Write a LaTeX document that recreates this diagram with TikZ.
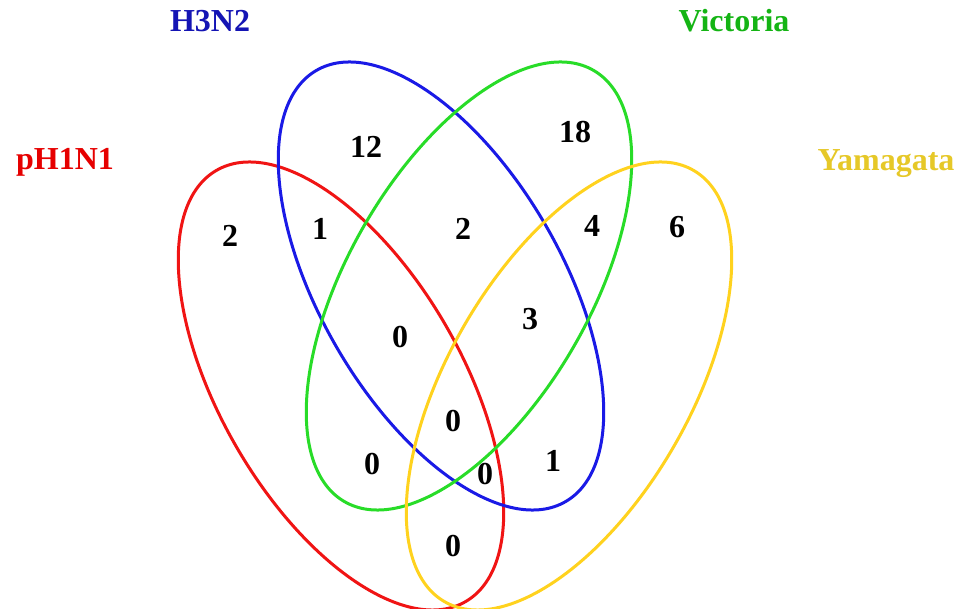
\documentclass[tikz,border=0pt]{standalone}
\usepackage{fontspec}
\setmainfont{Liberation Serif}
\definecolor{redline}{HTML}{F01414}
\definecolor{redtext}{HTML}{E60000}
\definecolor{blueline}{HTML}{1A1AE6}
\definecolor{bluetext}{HTML}{1414B4}
\definecolor{greenline}{HTML}{28DC28}
\definecolor{greentext}{HTML}{14B414}
\definecolor{yellowline}{HTML}{FFD21E}
\definecolor{yellowtext}{HTML}{E6C828}
\begin{document}
\begin{tikzpicture}[x=1pt,y=-1pt,
  setline/.style={line width=3pt},
  numlabel/.style={anchor=base,inner sep=0pt,font=\fontsize{32}{38}\selectfont\bfseries},
  setlabel/.style={anchor=base,inner sep=0pt,font=\fontsize{32}{38}\selectfont\bfseries}]
\useasboundingbox (0,0) rectangle (962,609);
\fill[white] (0,0) rectangle (962,609);
\coordinate (cr) at (341,386);
\coordinate (cb) at (441,286);
\coordinate (cg) at (469,286);
\coordinate (cy) at (569,386);
\draw[setline,redline,rotate around={-60:(cr)}] (cr) ellipse [x radius=249, y radius=121];
\draw[setline,blueline,rotate around={-60:(cb)}] (cb) ellipse [x radius=249, y radius=121];
\draw[setline,greenline,rotate around={60:(cg)}] (cg) ellipse [x radius=249, y radius=121];
\draw[setline,yellowline,rotate around={60:(cy)}] (cy) ellipse [x radius=249, y radius=121];
\node[setlabel,text=bluetext] (lb) at (210,32) {H3N2};
\node[setlabel,text=greentext] (lg) at (734,32) {Victoria};
\node[setlabel,text=redtext] (lr) at (65,170) {pH1N1};
\node[setlabel,text=yellowtext] (ly) at (886,171) {Yamagata};
\node[numlabel] (n1) at (366,158) {12};
\node[numlabel] (n2) at (575,143) {18};
\node[numlabel] (n3) at (230,247) {2};
\node[numlabel] (n4) at (320,240) {1};
\node[numlabel] (n5) at (463,240) {2};
\node[numlabel] (n6) at (592,237) {4};
\node[numlabel] (n7) at (677,238) {6};
\node[numlabel] (n8) at (400,348) {0};
\node[numlabel] (n9) at (530,330) {3};
\node[numlabel] (n10) at (453,432) {0};
\node[numlabel] (n11) at (372,475) {0};
\node[numlabel] (n12) at (485,485) {0};
\node[numlabel] (n13) at (553,472) {1};
\node[numlabel] (n14) at (453,557) {0};
\end{tikzpicture}
\end{document}
